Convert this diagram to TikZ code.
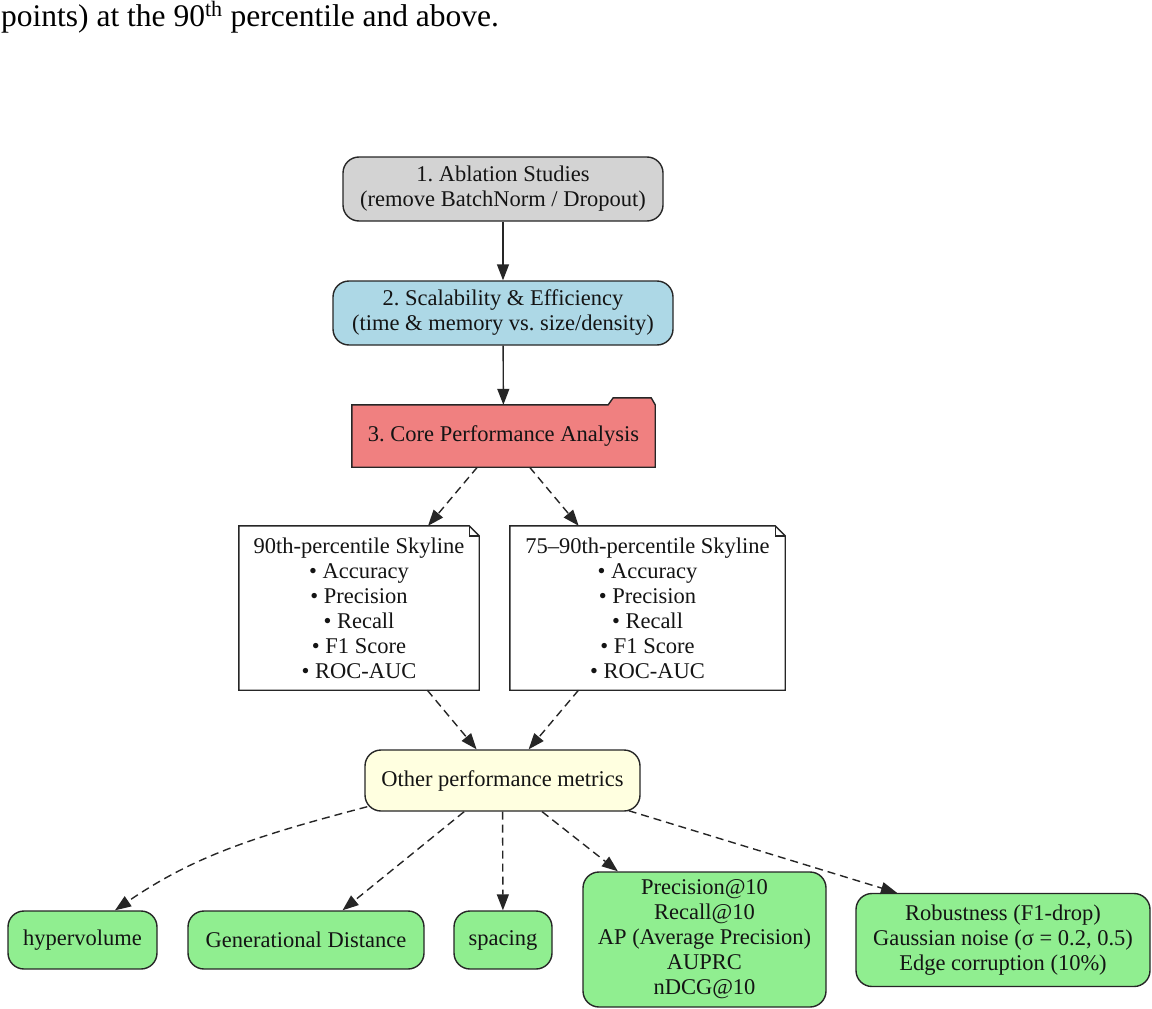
\documentclass[tikz,border=0pt]{standalone}
\usepackage{fontspec}
\setmainfont{Liberation Serif}
\usetikzlibrary{arrows.meta,calc,backgrounds}
\definecolor{ablfill}{HTML}{D3D3D3}
\definecolor{scalfill}{HTML}{ADD8E6}
\definecolor{corefill}{HTML}{F08080}
\definecolor{otherfill}{HTML}{FFFFE0}
\definecolor{metricfill}{HTML}{90EE90}
\newcommand\nodefont{\fontsize{22.5}{25}\selectfont}
\frenchspacing
\begin{document}
\begin{tikzpicture}[x=1pt,y=-1pt,
  base/.style={align=center, font=\nodefont, inner sep=0pt, text=black!92},
  rbox/.style={base, draw=black!85, line width=1.4pt, rounded corners=16pt},
  solidedge/.style={line width=1.4pt, draw=black!85, -{Triangle[length=16pt,width=12pt]}},
  dashedge/.style={solidedge, dash pattern=on 8pt off 5pt},
  outline/.style={draw=black!85, line width=1.4pt, line join=miter},
]
\useasboundingbox (0,0) rectangle (1152,1009);

% running text above the chart
\node[anchor=base west, inner sep=0pt, font=\fontsize{31.5}{38}\selectfont] (caption) at (1,26)
  {points) at the 90\textsuperscript{th} percentile and above.};

% pipeline stages
\node[rbox, fill=ablfill, minimum width=320pt, minimum height=64pt] (abl) at (503,189)
  {1. Ablation Studies\\(remove BatchNorm / Dropout)};
\node[rbox, fill=scalfill, minimum width=340pt, minimum height=64pt] (scal) at (503,313)
  {2. Scalability \& Efficiency\\(time \& memory vs. size/density)};
\node[base, minimum width=303pt, minimum height=62pt] (core) at (503.5,436)
  {3. Core Performance Analysis};

% skyline notes
\node[base, minimum width=240pt, minimum height=164pt] (sky90) at (359,608)
  {90th-percentile Skyline\\• Accuracy\\• Precision\\• Recall\\• F1 Score\\• ROC-AUC};
\node[base, minimum width=275pt, minimum height=164pt] (sky75) at (647.5,608)
  {75–90th-percentile Skyline\\• Accuracy\\• Precision\\• Recall\\• F1 Score\\• ROC-AUC};

\node[rbox, fill=otherfill, minimum width=275pt, minimum height=61pt] (others) at (502.5,780.5)
  {Other performance metrics};

% metric leaves
\node[rbox, fill=metricfill, minimum width=149pt, minimum height=58pt] (hv) at (82.5,940) {hypervolume};
\node[rbox, fill=metricfill, minimum width=236pt, minimum height=58pt] (gen) at (306,940) {Generational Distance};
\node[rbox, fill=metricfill, minimum width=98pt, minimum height=58pt] (spc) at (503,940) {spacing};
\node[rbox, fill=metricfill, minimum width=243pt, minimum height=135pt] (prec) at (704.5,939.5)
  {Precision@10\\Recall@10\\AP (Average Precision)\\AUPRC\\nDCG@10};
\node[rbox, fill=metricfill, minimum width=294pt, minimum height=93pt] (rob) at (1003,940)
  {Robustness (F1-drop)\\Gaussian noise (σ = 0.2, 0.5)\\Edge corruption (10\%)};

% folder and note outlines behind their text
\begin{scope}[on background layer]
  \filldraw[outline, fill=corefill]
    (core.north west) -- ($(core.north east)+(-47,0)$) -- ($(core.north east)+(-42,-7)$)
    -- ($(core.north east)+(-4,-7)$) -- (core.north east) -- (core.south east)
    -- (core.south west) -- cycle;
  \foreach \n in {sky90,sky75}{
    \filldraw[outline, fill=white]
      (\n.north west) -- ($(\n.north east)+(-10,0)$) -- ($(\n.north east)+(0,10)$)
      -- (\n.south east) -- (\n.south west) -- cycle;
    \draw[outline] ($(\n.north east)+(-10,0)$) -- ($(\n.north east)+(-10,10)$)
      -- ($(\n.north east)+(0,10)$);
  }
\end{scope}

% connectors
\draw[solidedge] (abl) -- (scal);
\draw[solidedge] (scal) -- (core);
\draw[dashedge] (core) -- (sky90);
\draw[dashedge] (core) -- (sky75);
\draw[dashedge] (sky90) -- (others);
\draw[dashedge] (sky75) -- (others);
\draw[dashedge] ($(others.south west)+(3,-5)$) .. controls +(-110,29) and +(80,-55) .. ($(hv.north)+(32.5,0)$);
\draw[dashedge] (others) -- (gen);
\draw[dashedge] (others) -- (spc);
\draw[dashedge] (others) -- (prec);
\draw[dashedge] ($(others.south east)+(-12,-1)$) -- ($(rob.north)+(-106,0)$);
\end{tikzpicture}
\end{document}
